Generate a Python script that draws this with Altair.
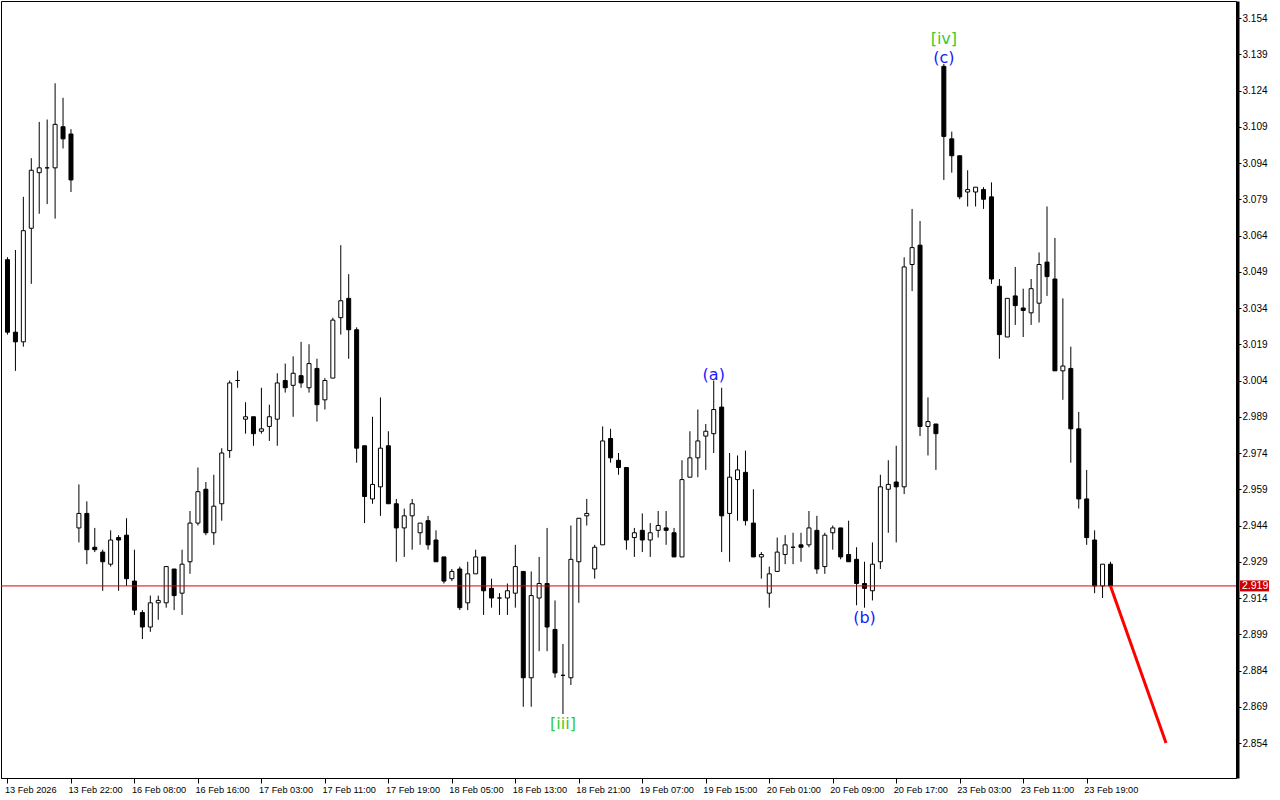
import altair as alt
import pandas as pd

# Hourly candles, oldest first
opens = [
    3.054, 3.024, 3.020, 3.067, 3.090, 3.092, 3.092, 3.109, 3.106, 2.943,
    2.949, 2.935, 2.933, 2.928, 2.939, 2.940, 2.921, 2.908, 2.902, 2.912,
    2.912, 2.926, 2.916, 2.929, 2.945, 2.959, 2.941, 2.953, 2.975, 3.004,
    2.988, 2.989, 2.983, 2.985, 2.988, 3.004, 3.002, 3.006, 3.001, 3.009,
    2.996, 3.005, 3.030, 3.038, 3.025, 2.977, 2.955, 2.960, 2.977, 2.953,
    2.943, 2.948, 2.941, 2.946, 2.938, 2.931, 2.922, 2.926, 2.912, 2.924,
    2.931, 2.918, 2.914, 2.914, 2.916, 2.925, 2.881, 2.914, 2.920, 2.901,
    2.882, 2.881, 2.929, 2.948, 2.926, 2.936, 2.980, 2.971, 2.968, 2.939,
    2.942, 2.938, 2.942, 2.943, 2.941, 2.931, 2.964, 2.972, 2.981, 2.982,
    2.993, 2.949, 2.963, 2.966, 2.945, 2.931, 2.916, 2.925, 2.932, 2.935,
    2.936, 2.936, 2.942, 2.927, 2.941, 2.943, 2.932, 2.930, 2.920, 2.917,
    2.929, 2.959, 2.962, 2.960, 3.052, 3.060, 2.985, 2.986, 3.134, 3.104,
    3.097, 3.082, 3.082, 3.083, 3.080, 3.043, 3.022, 3.039, 3.034, 3.032,
    3.036, 3.053, 3.046, 3.008, 3.009, 2.984, 2.955, 2.938, 2.919, 2.928,
]
highs = [
    3.055, 3.058, 3.080, 3.096, 3.111, 3.112, 3.127, 3.121, 3.108, 2.961,
    2.954, 2.943, 2.934, 2.942, 2.940, 2.947, 2.934, 2.909, 2.915, 2.915,
    2.927, 2.926, 2.934, 2.950, 2.968, 2.962, 2.965, 2.976, 3.004, 3.008,
    2.995, 2.989, 3.001, 2.994, 3.007, 3.011, 3.014, 3.020, 3.019, 3.013,
    3.005, 3.030, 3.060, 3.048, 3.026, 2.977, 2.989, 2.997, 2.983, 2.955,
    2.951, 2.955, 2.945, 2.948, 2.942, 2.931, 2.926, 2.927, 2.929, 2.934,
    2.931, 2.922, 2.916, 2.920, 2.936, 2.925, 2.925, 2.931, 2.943, 2.913,
    2.895, 2.944, 2.947, 2.955, 2.936, 2.985, 2.984, 2.974, 2.968, 2.943,
    2.949, 2.945, 2.950, 2.950, 2.943, 2.971, 2.983, 2.992, 2.986, 3.004,
    3.001, 2.974, 2.973, 2.975, 2.959, 2.933, 2.927, 2.939, 2.940, 2.941,
    2.941, 2.950, 2.948, 2.941, 2.944, 2.943, 2.946, 2.935, 2.929, 2.937,
    2.965, 2.971, 2.977, 3.055, 3.075, 3.070, 2.997, 2.986, 3.135, 3.107,
    3.097, 3.091, 3.084, 3.084, 3.086, 3.046, 3.038, 3.051, 3.042, 3.046,
    3.057, 3.076, 3.063, 3.038, 3.018, 2.991, 2.967, 2.942, 2.928, 2.929,
]
lows = [
    3.023, 3.008, 3.018, 3.044, 3.073, 3.077, 3.071, 3.100, 3.082, 2.937,
    2.928, 2.933, 2.917, 2.927, 2.917, 2.919, 2.907, 2.897, 2.900, 2.905,
    2.910, 2.909, 2.907, 2.924, 2.944, 2.940, 2.936, 2.946, 2.972, 3.001,
    2.982, 2.977, 2.982, 2.979, 2.977, 2.999, 2.989, 3.001, 2.999, 2.987,
    2.992, 3.005, 3.023, 3.013, 2.970, 2.945, 2.953, 2.948, 2.953, 2.929,
    2.931, 2.934, 2.936, 2.934, 2.929, 2.920, 2.921, 2.909, 2.909, 2.924,
    2.907, 2.910, 2.907, 2.907, 2.910, 2.869, 2.869, 2.892, 2.892, 2.881,
    2.866, 2.878, 2.912, 2.944, 2.922, 2.936, 2.970, 2.965, 2.934, 2.931,
    2.933, 2.931, 2.939, 2.936, 2.931, 2.931, 2.964, 2.964, 2.967, 2.974,
    2.933, 2.929, 2.946, 2.944, 2.931, 2.922, 2.910, 2.925, 2.928, 2.928,
    2.929, 2.935, 2.924, 2.924, 2.934, 2.930, 2.929, 2.911, 2.910, 2.913,
    2.926, 2.941, 2.937, 2.957, 3.041, 2.981, 2.973, 2.967, 3.087, 3.090,
    3.079, 3.076, 3.076, 3.075, 3.044, 3.013, 3.022, 3.027, 3.022, 3.027,
    3.028, 3.039, 3.008, 2.996, 2.970, 2.951, 2.936, 2.916, 2.914, 2.919,
]
closes = [
    3.024, 3.020, 3.066, 3.091, 3.092, 3.092, 3.110, 3.104, 3.087, 2.949,
    2.934, 2.934, 2.929, 2.938, 2.938, 2.922, 2.909, 2.902, 2.912, 2.913,
    2.927, 2.915, 2.928, 2.945, 2.958, 2.941, 2.952, 2.974, 3.003, 3.004,
    2.989, 2.982, 2.984, 2.989, 3.003, 3.001, 3.007, 3.003, 3.011, 2.994,
    3.004, 3.029, 3.037, 3.025, 2.976, 2.956, 2.961, 2.976, 2.953, 2.943,
    2.948, 2.953, 2.945, 2.936, 2.929, 2.921, 2.925, 2.910, 2.924, 2.931,
    2.917, 2.914, 2.914, 2.917, 2.927, 2.881, 2.915, 2.920, 2.902, 2.883,
    2.882, 2.930, 2.947, 2.949, 2.935, 2.979, 2.972, 2.968, 2.938, 2.941,
    2.938, 2.941, 2.944, 2.942, 2.931, 2.963, 2.972, 2.979, 2.983, 2.992,
    2.948, 2.964, 2.967, 2.946, 2.931, 2.932, 2.924, 2.933, 2.936, 2.935,
    2.935, 2.943, 2.926, 2.940, 2.943, 2.931, 2.929, 2.920, 2.918, 2.928,
    2.960, 2.961, 2.960, 3.051, 3.059, 2.985, 2.987, 2.982, 3.105, 3.097,
    3.080, 3.083, 3.084, 3.079, 3.046, 3.023, 3.038, 3.035, 3.033, 3.042,
    3.052, 3.047, 3.008, 3.010, 2.984, 2.955, 2.939, 2.919, 2.928, 2.919,
]

# Time axis labels (every 8th bar)
tick_bars = [0, 8, 16, 24, 32, 40, 48, 56, 64, 72, 80, 88, 96, 104, 112, 120, 128, 136]
tick_texts = [
    "13 Feb 2026", "13 Feb 22:00", "16 Feb 08:00", "16 Feb 16:00", "17 Feb 03:00",
    "17 Feb 11:00", "17 Feb 19:00", "18 Feb 05:00", "18 Feb 13:00", "18 Feb 21:00",
    "19 Feb 07:00", "19 Feb 15:00", "20 Feb 01:00", "20 Feb 09:00", "20 Feb 17:00",
    "23 Feb 03:00", "23 Feb 11:00", "23 Feb 19:00",
]

# Price axis labels
price_ticks = [2.854, 2.869, 2.884, 2.899, 2.914, 2.929, 2.944, 2.959, 2.974, 2.989,
               3.004, 3.019, 3.034, 3.049, 3.064, 3.079, 3.094, 3.109, 3.124, 3.139, 3.154]

# Wave labels: bar index, text, colour, placed above the high or below the low
wave_bars = [70, 89, 108, 118, 118]
wave_texts = ["[iii]", "(a)", "(b)", "(c)", "[iv]"]
wave_colors = ["#33cc33", "#1a1aff", "#1a1aff", "#1a1aff", "#33cc33"]
wave_side = ["low", "high", "low", "high", "high"]
wave_lift = [0, 0, 0, 0, 19]

# Forecast segment from the last close
forecast_bars = [139, 146]
forecast_prices = [2.919, 2.854]

n = len(opens)
df = pd.DataFrame({
    "idx": list(range(n)),
    "open": opens,
    "high": highs,
    "low": lows,
    "close": closes,
})

FONT = "Liberation Sans"

xscale = alt.Scale(domain=[-0.1875, 154.1875], nice=False, zero=False)
yscale = alt.Scale(domain=[2.83952, 3.16104], nice=False, zero=False)

label_expr = "[{}][indexof([{}], datum.value)]".format(
    ",".join("'" + t + "'" for t in tick_texts),
    ",".join(str(b) for b in tick_bars),
)

xaxis = alt.Axis(
    values=tick_bars, labelExpr=label_expr, grid=False, title=None,
    domainColor="black", domainWidth=1, tickColor="black", tickSize=5,
    labelAlign="left", labelBaseline="top", labelOffset=-3, labelPadding=2,
    labelFlush=False, labelOverlap=False, labelFont=FONT, labelFontSize=9.2,
    labelColor="black",
)
yaxis = alt.Axis(
    orient="right", values=price_ticks, format=".3f", grid=False, title=None,
    domainColor="black", domainWidth=3, offset=1.5, tickColor="black",
    tickSize=3.5, labelPadding=1, labelFlush=False, labelOverlap=False,
    labelBound=False, labelFont=FONT, labelFontSize=10, labelColor="black",
    labelBaseline="middle",
)

# every layer carries the same axis definitions so they merge cleanly
X = lambda f: alt.X(f, scale=xscale, axis=xaxis, title=None)
Y = lambda f: alt.Y(f, scale=yscale, axis=yaxis, title=None)

base = alt.Chart(df)

wicks = base.mark_rule(color="black", strokeWidth=1).encode(
    x=X("idx:Q"),
    y=Y("low:Q"),
    y2="high:Q",
)

bodies = base.mark_bar(size=4, stroke="black", strokeWidth=1).encode(
    x=X("idx:Q"),
    y=Y("open:Q"),
    y2="close:Q",
    fill=alt.condition("datum.close < datum.open", alt.value("black"), alt.value("white")),
)

last_df = pd.DataFrame({"price": [closes[-1]]})
bid_line = alt.Chart(last_df).mark_rule(color="#e00000", strokeWidth=1).encode(
    y=Y("price:Q"),
)

forecast = alt.Chart(pd.DataFrame({"idx": forecast_bars, "price": forecast_prices})).mark_line(
    color="#ff0000", strokeWidth=3
).encode(
    x=X("idx:Q"),
    y=Y("price:Q"),
)

price_box = alt.Chart(last_df).mark_rule(color="#cc0000", strokeWidth=11, strokeCap="butt").encode(
    x=alt.value(1239), x2=alt.value(1268),
    y=Y("price:Q"),
)
price_text = alt.Chart(last_df).mark_text(
    align="left", baseline="middle", color="white", font=FONT, fontSize=10.5
).encode(
    x=alt.value(1241),
    y=Y("price:Q"),
    text=alt.Text("price:Q", format=".3f"),
)

wave_rows = []
for b, t, c, s, lift in zip(wave_bars, wave_texts, wave_colors, wave_side, wave_lift):
    wave_rows.append({
        "idx": b, "text": t, "color": c,
        "price": highs[b] if s == "high" else lows[b],
        "side": s, "lift": lift,
    })
wave_df = pd.DataFrame(wave_rows)

def wave_layer(side, lift):
    sub = wave_df[(wave_df["side"] == side) & (wave_df["lift"] == lift)]
    return alt.Chart(sub).mark_text(
        font="DejaVu Sans", fontSize=16, align="center",
        baseline="bottom" if side == "high" else "top",
        dy=(2 - lift) if side == "high" else 2,
    ).encode(
        x=X("idx:Q"),
        y=Y("price:Q"),
        text="text:N",
        color=alt.Color("color:N", scale=None),
    )

labels = [wave_layer("high", 0), wave_layer("high", 19), wave_layer("low", 0)]

chart = alt.layer(
    wicks, bodies, bid_line, forecast, *labels, price_box, price_text
).properties(
    width=1235,
    height=777,
    padding={"left": 1, "top": 1, "right": 44, "bottom": 22},
    autosize="none",
    background="white",
).configure_view(
    stroke="black", strokeWidth=1
).configure_axis(
    labelOverlap=False
)

chart.save("out.html", embed_options={"renderer": "svg", "actions": False})
